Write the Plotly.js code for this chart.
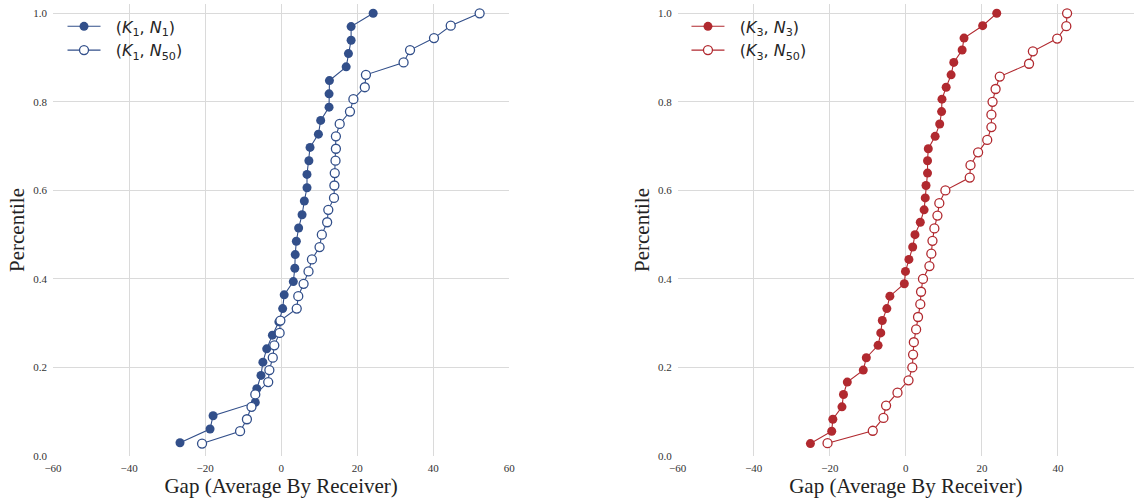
<!DOCTYPE html>
<html>
<head>
<meta charset="utf-8">
<script src="https://cdn.plot.ly/plotly-3.0.1.min.js"></script>
<style>
  html, body { margin: 0; padding: 0; background: #fff; }
  #chart { width: 1138px; height: 502px; }
</style>
</head>
<body>
<div id="chart"></div>
<script>
// Gap (average by receiver), sorted ascending, with the matching empirical percentile.
const gapK1N1 = [-26.6, -18.7, -17.9, -6.8, -6.4, -5.3, -4.8, -3.8, -2.3, -0.6, 0.4,
  0.8, 3.2, 3.6, 3.7, 4.0, 4.6, 5.5, 6.1, 6.8, 6.8, 7.3, 7.6, 9.8, 10.4, 12.6, 12.6,
  12.7, 17.1, 17.7, 18.4, 18.4, 24.2];
const pctK1N1 = [0.030, 0.061, 0.091, 0.121, 0.152, 0.182, 0.212, 0.242, 0.273, 0.303,
  0.333, 0.364, 0.394, 0.424, 0.455, 0.485, 0.515, 0.545, 0.576, 0.606, 0.636, 0.667,
  0.697, 0.727, 0.758, 0.788, 0.818, 0.848, 0.879, 0.909, 0.939, 0.970, 1.000];

const gapK1N50 = [-20.8, -10.8, -9.0, -7.8, -6.8, -3.4, -3.1, -2.2, -1.8, -0.4, -0.2,
  4.1, 4.5, 5.9, 7.2, 8.1, 10.1, 10.7, 12.1, 12.4, 13.9, 14.0, 14.1, 14.3, 14.4, 14.4,
  15.4, 18.1, 19.0, 22.0, 22.3, 32.2, 33.9, 40.2, 44.6, 52.2];
const pctK1N50 = [0.028, 0.056, 0.083, 0.111, 0.139, 0.167, 0.194, 0.222, 0.250, 0.278,
  0.306, 0.333, 0.361, 0.389, 0.417, 0.444, 0.472, 0.500, 0.528, 0.556, 0.583, 0.611,
  0.639, 0.667, 0.694, 0.722, 0.750, 0.778, 0.806, 0.833, 0.861, 0.889, 0.917, 0.944,
  0.972, 1.000];

const gapK3N3 = [-25.1, -19.5, -19.2, -16.8, -16.4, -15.4, -11.2, -10.4, -7.3, -6.6,
  -6.2, -5.0, -4.2, -0.4, -0.1, 0.8, 1.8, 2.4, 3.8, 4.8, 5.1, 5.3, 5.7, 5.7, 5.9, 7.7,
  8.9, 9.4, 9.5, 10.6, 11.9, 12.6, 14.8, 15.3, 20.2, 23.9];
const pctK3N3 = pctK1N50.slice();

const gapK3N50 = [-20.6, -8.7, -5.9, -5.2, -2.2, 0.7, 1.7, 1.9, 2.1, 2.7, 3.2, 3.8,
  4.0, 4.5, 6.2, 6.7, 7.0, 7.5, 8.3, 8.8, 10.4, 16.8, 17.0, 19.0, 21.4, 22.5, 22.5,
  22.8, 23.6, 24.7, 32.4, 33.4, 39.8, 42.2, 42.4];
const pctK3N50 = [0.029, 0.057, 0.086, 0.114, 0.143, 0.171, 0.200, 0.229, 0.257, 0.286,
  0.314, 0.343, 0.371, 0.400, 0.429, 0.457, 0.486, 0.514, 0.543, 0.571, 0.600, 0.629,
  0.657, 0.686, 0.714, 0.743, 0.771, 0.800, 0.829, 0.857, 0.886, 0.914, 0.943, 0.971,
  1.000];

// Leading non-breaking spaces widen the gap between legend symbol and label.
const seriesNames = [
  '&nbsp;&nbsp;(<i>K</i><sub>1</sub>, <i>N</i><sub>1</sub>)',
  '&nbsp;&nbsp;(<i>K</i><sub>1</sub>, <i>N</i><sub>50</sub>)',
  '&nbsp;&nbsp;(<i>K</i><sub>3</sub>, <i>N</i><sub>3</sub>)',
  '&nbsp;&nbsp;(<i>K</i><sub>3</sub>, <i>N</i><sub>50</sub>)'
];
const xTicks = [-60, -40, -20, 0, 20, 40, 60];
const yTicks = [0.0, 0.2, 0.4, 0.6, 0.8, 1.0];

const BLUE = '#324f8a';
const RED = '#b1292f';
const SERIF = 'Liberation Serif';

function ecdfTrace(x, y, name, color, filled, xa, ya, legend) {
  return {
    type: 'scatter', mode: 'lines+markers',
    x: x, y: y, name: name, xaxis: xa, yaxis: ya, legend: legend,
    line: { color: color, width: 1.1 },
    marker: {
      symbol: 'circle', size: 9,
      color: filled ? color : '#ffffff',
      line: { color: color, width: filled ? 0 : 1.3 }
    },
    hoverinfo: 'x+y'
  };
}

const data = [
  ecdfTrace(gapK1N1, pctK1N1, seriesNames[0], BLUE, true, 'x', 'y', 'legend'),
  ecdfTrace(gapK1N50, pctK1N50, seriesNames[1], BLUE, false, 'x', 'y', 'legend'),
  ecdfTrace(gapK3N3, pctK3N3, seriesNames[2], RED, true, 'x2', 'y2', 'legend2'),
  ecdfTrace(gapK3N50, pctK3N50, seriesNames[3], RED, false, 'x2', 'y2', 'legend2')
];

const tickFont = { family: SERIF, size: 11, color: '#333333' };
const titleFont = { family: SERIF, size: 21, color: '#222222' };

function xAxis(domain, anchor) {
  return {
    domain: domain, anchor: anchor, range: [-60, 60],
    tickvals: xTicks, ticks: '', showline: false, zeroline: false,
    showgrid: true, gridcolor: '#dadada', gridwidth: 1,
    tickfont: tickFont, ticklabelstandoff: 4,
    title: { text: 'Gap (Average By Receiver)', font: titleFont, standoff: 5 }
  };
}
function yAxis(anchor) {
  return {
    domain: [0, 1], anchor: anchor, range: [0, 1.021],
    tickvals: yTicks, tickformat: '.1f', ticks: '', showline: false, zeroline: false,
    showgrid: true, gridcolor: '#dadada', gridwidth: 1,
    tickfont: tickFont, ticklabelstandoff: 5,
    title: { text: 'Percentile', font: titleFont, standoff: 2 }
  };
}

const legendStyle = (xpos) => ({
  x: xpos, y: 0.988, xanchor: 'left', yanchor: 'top',
  bgcolor: 'rgba(0,0,0,0)', borderwidth: 0,
  font: { family: 'DejaVu Sans', size: 16, color: '#262626' },
  itemwidth: 33, tracegroupgap: 0
});

const layout = {
  width: 1138, height: 502,
  margin: { l: 53, r: 4, t: 4, b: 46, pad: 0 },
  paper_bgcolor: '#ffffff', plot_bgcolor: '#ffffff',
  showlegend: true,
  xaxis: xAxis([0, 0.4221], 'y'),
  yaxis: yAxis('x'),
  xaxis2: xAxis([0.5779, 1], 'y2'),
  yaxis2: yAxis('x2'),
  legend: legendStyle(0.0088),
  legend2: legendStyle(0.586)
};

Plotly.newPlot('chart', data, layout, { displayModeBar: false, staticPlot: true });
</script>
</body>
</html>
